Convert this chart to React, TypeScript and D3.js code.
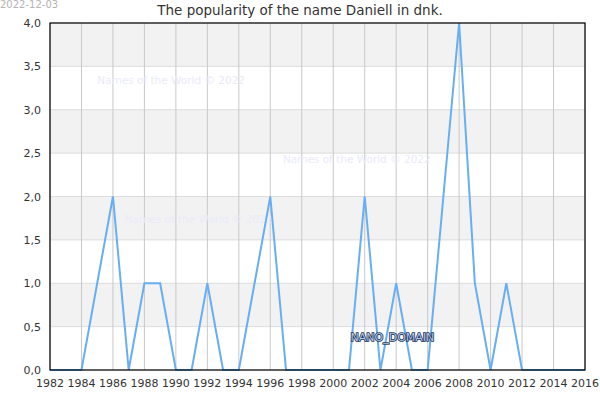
import { useMemo } from "react";
import * as d3 from "d3";

const years = d3.range(1982, 2017);
// one value per year, 1982..2016
const counts = [
  0, 0, 0, 1, 2, 0, 1, 1, 0, 0, 1, 0, 0, 1, 2, 0, 0, 0, 0, 0, 2, 0, 1, 0, 0, 2, 4, 1, 0, 1, 0, 0, 0, 0, 0,
];
const yTicks = [0, 0.5, 1, 1.5, 2, 2.5, 3, 3.5, 4];
const xTicks = d3.range(1982, 2017, 2);
const watermarks = [
  { x: 1985, y: 3.3 },
  { x: 1996.8, y: 2.39 },
  { x: 1986.75, y: 1.7 },
];

const W = 600;
const H = 400;
const margin = { top: 23, right: 15, bottom: 30, left: 50 };
const font = "DejaVu Sans, sans-serif";

export default function App() {
  const x = useMemo(() => d3.scaleLinear().domain([1982, 2016]).range([margin.left, W - margin.right]), []);
  const y = useMemo(() => d3.scaleLinear().domain([0, 4]).range([H - margin.bottom, margin.top]), []);
  const line = d3
    .line<number>()
    .x((_, i) => x(years[i]))
    .y((d) => y(d));
  const fmt = (v: number) => v.toFixed(1).replace(".", ",");

  return (
    <svg width={W} height={H} style={{ position: "absolute", left: 0, top: 0 }} fontFamily={font}>
      <rect width={W} height={H} fill="#fff" />
      {yTicks.slice(0, -1).map((t, i) =>
        i % 2 === 1 ? (
          <rect key={t} x={x(1982)} width={x(2016) - x(1982)} y={y(t + 0.5)} height={y(t) - y(t + 0.5)} fill="#f2f2f2" />
        ) : null,
      )}
      {yTicks.map((t) => (
        <line key={t} x1={x(1982)} x2={x(2016)} y1={y(t)} y2={y(t)} stroke="#dcdcdc" />
      ))}
      {xTicks.map((t) => (
        <line key={t} x1={x(t)} x2={x(t)} y1={y(0)} y2={y(4)} stroke="#c8c8c8" />
      ))}
      {watermarks.map((w, i) => (
        <text key={i} x={x(w.x)} y={y(w.y)} fontSize={10.5} fill="#eaeafa">
          Names of the World © 2022
        </text>
      ))}
      <path d={line(counts) ?? ""} fill="none" stroke="#68aef2" strokeWidth={2} />
      <rect x={x(1982)} y={y(4)} width={x(2016) - x(1982)} height={y(0) - y(4)} fill="none" stroke="#000" strokeWidth={1.2} />
      {yTicks.map((t) => (
        <text key={t} x={x(1982) - 9} y={y(t) + 4} fontSize={11} fill="#333" textAnchor="end">
          {fmt(t)}
        </text>
      ))}
      {xTicks.map((t) => (
        <text key={t} x={x(t)} y={y(0) + 17} fontSize={11} fill="#333" textAnchor="middle">
          {t}
        </text>
      ))}
      <text x={300} y={15} fontSize={13.5} fill="#333" textAnchor="middle">
        The popularity of the name Daniell in dnk.
      </text>
      <text x={0} y={8} fontSize={10} fill="#b4b4b4">
        2022-12-03
      </text>
      <text
        x={x(2001.1)}
        y={y(0.33)}
        fontSize={11}
        fill="#b8c8e0"
        stroke="#1c3560"
        strokeWidth={1.6}
        paintOrder="stroke"
      >
        NANO_DOMAIN
      </text>
    </svg>
  );
}
